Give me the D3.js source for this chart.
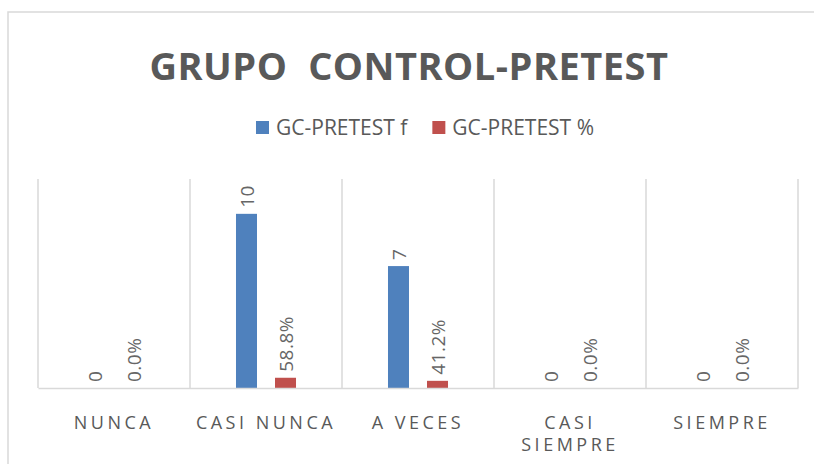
<!DOCTYPE html>
<html>
<head>
<meta charset="utf-8">
<script src="https://cdn.jsdelivr.net/npm/d3@7"></script>
<style>
  html, body { margin: 0; padding: 0; background: #fff; }
  svg { display: block; font-family: "Open Sans", sans-serif; }
</style>
</head>
<body>
<svg id="chart" width="814" height="464"></svg>
<script>
const title = "GRUPO  CONTROL-PRETEST";
const categories = ["NUNCA", "CASI NUNCA", "A VECES", "CASI SIEMPRE", "SIEMPRE"];
const seriesNames = ["GC-PRETEST f", "GC-PRETEST %"];
const freqValues = [0, 10, 7, 0, 0];
const pctValues = [0.0, 0.588, 0.412, 0.0, 0.0];
const colors = ["#4f81bd", "#c0504d"];
const yMax = 12;

const svg = d3.select("#chart");
const plot = { left: 38, right: 798, top: 179, bottom: 388 };
const textColor = "#595959";
const gridColor = "#d9d9d9";

// chart border (runs off the right edge)
svg.append("rect")
  .attr("x", 8).attr("y", 12).attr("width", 830).attr("height", 470)
  .attr("fill", "none").attr("stroke", gridColor).attr("stroke-width", 1.5);

// title
svg.append("text")
  .attr("x", 409).attr("y", 80)
  .attr("text-anchor", "middle")
  .style("white-space", "pre")
  .attr("font-size", 38).attr("font-weight", 700)
  .attr("letter-spacing", "0.5px")
  .attr("fill", textColor)
  .text(title);

// legend
const legend = svg.append("g");
let lx = 0;
seriesNames.forEach((name, i) => {
  const g = legend.append("g").attr("transform", `translate(${lx},0)`);
  g.append("rect").attr("x", 0).attr("y", 121).attr("width", 13).attr("height", 13).attr("fill", colors[i]);
  const t = g.append("text").attr("x", 20).attr("y", 135)
    .attr("font-size", 21).attr("fill", textColor).text(name);
  lx += 20 + t.node().getComputedTextLength() + 25;
});
const legendW = lx - 25;
legend.attr("transform", `translate(${425 - legendW / 2},0)`);

// scales
const x0 = d3.scaleBand().domain(categories).range([plot.left, plot.right]).padding(0);
const x1 = d3.scaleBand().domain(seriesNames).range([0, x0.bandwidth()])
  .paddingInner(0.4615).paddingOuter(1.179);
const y = d3.scaleLinear().domain([0, yMax]).range([plot.bottom, plot.top]);

// vertical gridlines between categories
const bounds = categories.map(c => x0(c)).concat([x0(categories[categories.length - 1]) + x0.bandwidth()]);
svg.append("g").selectAll("line").data(bounds).join("line")
  .attr("x1", d => d).attr("x2", d => d)
  .attr("y1", plot.top).attr("y2", plot.bottom)
  .attr("stroke", gridColor).attr("stroke-width", 1.5);

// bars
const rows = categories.map((c, i) => ({
  cat: c,
  vals: [
    { s: seriesNames[0], v: freqValues[i], label: d3.format("d")(freqValues[i]) },
    { s: seriesNames[1], v: pctValues[i], label: d3.format(".1%")(pctValues[i]) }
  ]
}));

const groups = svg.append("g").selectAll("g").data(rows).join("g")
  .attr("transform", d => `translate(${x0(d.cat)},0)`);

groups.selectAll("rect").data(d => d.vals).join("rect")
  .attr("x", d => x1(d.s))
  .attr("width", x1.bandwidth())
  .attr("y", d => y(d.v))
  .attr("height", d => y(0) - y(d.v))
  .attr("fill", (d, i) => colors[i]);

groups.selectAll("text").data(d => d.vals).join("text")
  .attr("transform", d => `translate(${x1(d.s) + x1.bandwidth() / 2 + 1},${y(d.v) - 6}) rotate(-90)`)
  .attr("dy", "0.35em")
  .attr("text-anchor", "start")
  .attr("font-size", 19)
  .attr("letter-spacing", "0.5px")
  .attr("fill", "#666666")
  .text(d => d.label);

// baseline axis
const xAxis = d3.axisBottom(x0).tickSize(0).tickPadding(0);
const axisG = svg.append("g").attr("transform", `translate(0,${plot.bottom})`).call(xAxis);
axisG.select(".domain").attr("stroke", gridColor).attr("stroke-width", 1.5);
axisG.selectAll(".tick text").remove();

// category labels with wrapping
const catG = svg.append("g");
categories.forEach(c => {
  const cx = x0(c) + x0.bandwidth() / 2;
  const t = catG.append("text")
    .attr("x", cx).attr("y", 429)
    .attr("text-anchor", "middle")
    .attr("font-size", 18)
    .attr("letter-spacing", "3.5px")
    .attr("fill", textColor);
  const words = c.split(" ");
  let line = [];
  let tspan = t.append("tspan").attr("x", cx).attr("dy", 0);
  words.forEach(w => {
    line.push(w);
    tspan.text(line.join(" "));
    if (tspan.node().getComputedTextLength() > x0.bandwidth() * 0.95 && line.length > 1) {
      line.pop();
      tspan.text(line.join(" "));
      line = [w];
      tspan = t.append("tspan").attr("x", cx).attr("dy", "22px").text(w);
    }
  });
});
</script>
</body>
</html>
